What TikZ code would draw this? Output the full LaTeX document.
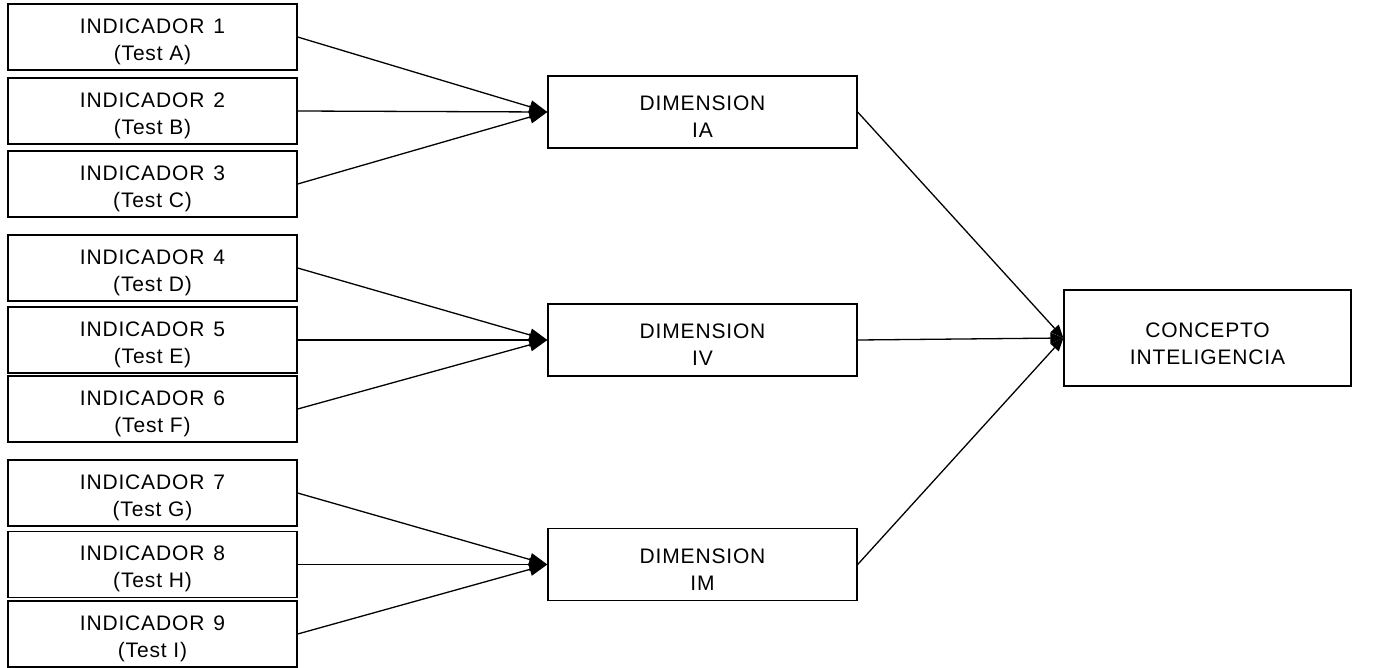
\documentclass[tikz,border=0pt]{standalone}
\usepackage{fontspec}
\setmainfont[LetterSpace=4]{Liberation Sans}
\usetikzlibrary{arrows.meta}
\begin{document}
\begin{tikzpicture}[x=1pt,y=-1pt,
  box/.style={draw, line width=1.3pt, align=center, inner sep=0pt,
    font=\fontsize{21}{27}\selectfont},
  ind/.style={box, minimum width=289pt, minimum height=66pt},
  dim/.style={box, minimum width=309pt, minimum height=72pt},
  conc/.style={box, minimum width=287pt, minimum height=96pt},
  conn/.style={line width=1.3pt, -{Triangle[length=18pt,width=13pt]}},
  conn2/.style={line width=1.3pt, -{Triangle[length=13pt,width=11pt]}},
]
\useasboundingbox (0,0) rectangle (1396,667);
\newcommand{\tstrut}{\rule{0pt}{24pt}}
\newcommand{\ind}[2]{\tstrut INDICADOR\hspace{9pt}#1\\(Test #2)}
% indicator boxes
\node[ind] (i1) at (152.5,37)  {\ind{1}{A}};
\node[ind] (i2) at (152.5,111) {\ind{2}{B}};
\node[ind] (i3) at (152.5,184) {\ind{3}{C}};
\node[ind] (i4) at (152.5,268) {\ind{4}{D}};
\node[ind] (i5) at (152.5,340) {\ind{5}{E}};
\node[ind] (i6) at (152.5,409) {\ind{6}{F}};
\node[ind] (i7) at (152.5,493) {\ind{7}{G}};
\node[ind] (i8) at (152.5,564.5) {\ind{8}{H}};
\node[ind] (i9) at (152.5,634) {\ind{9}{I}};
% dimension boxes
\node[dim] (d1) at (702.5,112) {\tstrut DIMENSION\\IA};
\node[dim] (d2) at (702.5,340) {\tstrut DIMENSION\\IV};
\node[dim] (d3) at (702.5,564.5) {\tstrut DIMENSION\\IM};
% concept
\node[conc] (c) at (1207.5,338) {\rule{0pt}{26pt}CONCEPTO\\INTELIGENCIA};
% connectors
\foreach \i in {1,2,3} \draw[conn] (i\i.east) -- (d1.west);
\foreach \i in {4,5,6} \draw[conn] (i\i.east) -- (d2.west);
\foreach \i in {7,8,9} \draw[conn] (i\i.east) -- (d3.west);
\foreach \j in {1,2,3} \draw[conn2] (d\j.east) -- (c.west);
\end{tikzpicture}
\end{document}
